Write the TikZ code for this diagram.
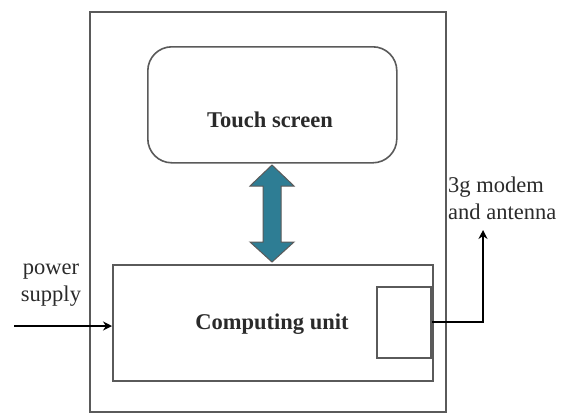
\documentclass[tikz,border=0pt]{standalone}
\usepackage{fontspec}
\setmainfont{Liberation Serif}
\usetikzlibrary{arrows.meta}
\definecolor{teal2}{HTML}{2E7D94}
\definecolor{edge}{HTML}{5A5A5A}
\definecolor{txt}{HTML}{2A2A2A}
\begin{document}
\begin{tikzpicture}[x=1pt,y=-1pt,
  box/.style={draw=edge,line width=1.6pt,fill=white},
  conn/.style={draw=black,line width=1.8pt,-{Stealth[length=9pt,width=9pt]}},
  lbl/.style={font=\fontsize{22.5}{27}\selectfont,text=txt,align=center,inner sep=0pt},
  blbl/.style={font=\fontsize{22.5}{27}\selectfont\bfseries,text=txt,inner sep=0pt}]
\useasboundingbox (0,0) rectangle (564,415);
\draw[box] (90,12) rectangle (446,412);
\node[box,rounded corners=24pt,minimum width=249pt,minimum height=116pt,anchor=north west] (touch) at (147,46) {};
\node[blbl] at (270,120) {Touch screen};
\node[box,minimum width=320pt,minimum height=116pt,anchor=north west] (comp) at (112,264) {};
\node[blbl] at (272,324) {Computing unit};
\node[box,minimum width=54pt,minimum height=71pt,anchor=north east] (modem) at (432,286) {};
\draw[draw=edge,line width=1pt,fill=teal2]
  (272,165) -- (294,186) -- (281,186) -- (281,242) -- (294,242) -- (272,262)
  -- (250,242) -- (263,242) -- (263,186) -- (250,186) -- cycle;
\node[lbl] (power) at (51,285) {power\\supply};
\coordinate (pstart) at (14,326);
\draw[conn] (pstart) -- (comp.west |- pstart);
\node[lbl,anchor=west,align=left] (ant) at (448,198) {3g modem\\and antenna};
\coordinate (up) at (483,230);
\draw[conn] (modem.east) -- (modem.east -| up) -- (up);
\end{tikzpicture}
\end{document}
